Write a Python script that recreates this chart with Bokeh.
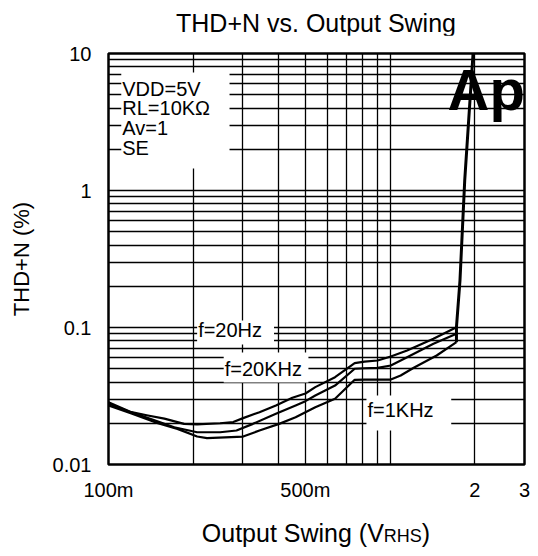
from bokeh.plotting import figure
from bokeh.layouts import column
from bokeh.models import FixedTicker, CustomJSTickFormatter, Label, BoxAnnotation, Range1d, Div
from bokeh.embed import file_html
from bokeh.resources import INLINE

# ---------------- data ----------------
title_text = "THD+N vs. Output Swing"
y_title = "THD+N (%)"
x_title_main = "Output Swing (V"
x_title_sub = "RHS"
x_title_end = ")"

x_ticks = [0.1, 0.5, 2, 3]
x_tick_labels = ["100m", "500m", "2", "3"]
x_minor = [0.2, 0.3, 0.4, 0.6, 0.7, 0.8, 0.9, 1.0]
y_ticks = [0.01, 0.1, 1, 10]
y_tick_labels = ["0.01", "0.1", "1", "10"]
y_minor = [m * d for d in (0.01, 0.1, 1) for m in range(2, 10)]

swing_20hz = [0.1, 0.1206, 0.138, 0.1579, 0.1854, 0.2064, 0.249, 0.2773, 0.3006, 0.3436,
              0.393, 0.4497, 0.5004, 0.5424, 0.6373, 0.7484, 0.811, 0.903, 1.0056, 1.149,
              1.425, 1.72]
thd_20hz = [0.0285, 0.0241, 0.0228, 0.0216, 0.0198, 0.0196, 0.0200, 0.0204, 0.0218, 0.0241,
            0.0270, 0.0307, 0.0330, 0.0367, 0.0434, 0.0549, 0.0563, 0.0574, 0.0614, 0.0679,
            0.0827, 0.1005]

swing_20khz = [0.1, 0.1206, 0.1457, 0.1711, 0.2064, 0.249, 0.2848, 0.3258, 0.393, 0.4617,
               0.5004, 0.5424, 0.6373, 0.7484, 0.811, 0.903, 1.0056, 1.149, 1.425, 1.72]
thd_20khz = [0.0279, 0.0240, 0.0210, 0.0187, 0.0172, 0.0172, 0.0177, 0.0198, 0.0235, 0.0270,
             0.0290, 0.0319, 0.0377, 0.0500, 0.0504, 0.0508, 0.0528, 0.0607, 0.0760, 0.0899]

swing_1khz = [0.1, 0.1206, 0.1457, 0.1757, 0.2064, 0.2237, 0.3006, 0.3436, 0.4036, 0.4617,
              0.5004, 0.5424, 0.6373, 0.7484, 0.811, 1.0056, 1.09, 1.213, 1.463, 1.72]
thd_1khz = [0.0270, 0.0236, 0.0204, 0.0182, 0.0160, 0.0156, 0.0160, 0.0177, 0.0198, 0.0221,
            0.0241, 0.0262, 0.0302, 0.0415, 0.0417, 0.0417, 0.0446, 0.0508, 0.0625, 0.0781]

# clipping rise shared by all three curves
swing_clip = [1.72, 1.72, 1.77, 1.84, 1.97]
thd_clip = [0.0781, 0.1005, 0.22, 1.18, 10.0]

cond_lines = ["VDD=5V", "RL=10K\u03a9", "Av=1", "SE"]
curve_names = ["f=20Hz", "f=20KHz", "f=1KHz"]

FONT = "Liberation Sans"

p = figure(width=530, height=469, x_axis_type="log", y_axis_type="log",
           x_range=Range1d(0.1, 3), y_range=Range1d(0.01, 10),
           output_backend="svg", toolbar_location=None, margin=0,
           min_border_left=108, min_border_right=6, min_border_top=18, min_border_bottom=40)

p.outline_line_color = "black"
p.outline_line_width = 2.5
p.background_fill_color = "white"
p.border_fill_color = "white"

# axes
p.xaxis.ticker = FixedTicker(ticks=x_ticks, minor_ticks=x_minor)
p.yaxis.ticker = FixedTicker(ticks=y_ticks, minor_ticks=y_minor)
p.xaxis.formatter = CustomJSTickFormatter(args=dict(vals=x_ticks, labs=x_tick_labels), code="""
for (let i = 0; i < vals.length; i++) { if (Math.abs(Math.log10(tick / vals[i])) < 1e-6) return labs[i]; }
return "";""")
p.yaxis.formatter = CustomJSTickFormatter(args=dict(vals=y_ticks, labs=y_tick_labels), code="""
for (let i = 0; i < vals.length; i++) { if (Math.abs(Math.log10(tick / vals[i])) < 1e-6) return labs[i]; }
return "";""")
p.yaxis.axis_label = y_title
for ax in (p.xaxis, p.yaxis):
    ax.axis_line_color = None
    ax.major_tick_line_color = None
    ax.minor_tick_line_color = None
    ax.major_tick_out = 0
    ax.minor_tick_out = 0
    ax.major_label_text_font = FONT
    ax.major_label_text_font_size = "20px"
    ax.major_label_text_color = "black"
    ax.axis_label_text_font = FONT
    ax.axis_label_text_font_style = "normal"
    ax.axis_label_text_color = "black"
p.xaxis.major_label_standoff = 14
p.yaxis.major_label_standoff = 17
p.yaxis.axis_label_text_font_size = "22px"
p.yaxis.axis_label_standoff = 16

for g in (p.xgrid, p.ygrid):
    g.grid_line_color = "black"
    g.grid_line_width = 1.3
    g.grid_line_alpha = 1
    g.minor_grid_line_color = "black"
    g.minor_grid_line_width = 1.3

# curves
for xs, ys in ((swing_20hz, thd_20hz), (swing_20khz, thd_20khz), (swing_1khz, thd_1khz)):
    p.line(xs, ys, line_color="black", line_width=2.2, line_join="round")
p.line(swing_clip, thd_clip, line_color="black", line_width=3)

# condition box
p.add_layout(BoxAnnotation(left=0.111, right=0.269, bottom=1.45, top=7.27,
                           fill_color="white", fill_alpha=1, line_color=None))
for txt, yv in zip(cond_lines, [5.55, 3.97, 2.84, 2.03]):
    p.add_layout(Label(x=0.111, y=yv, x_offset=1, text=txt, text_font=FONT, text_font_size="20px",
                       text_baseline="middle", text_align="left", text_color="black"))

# curve labels
boxes = [(0.2064, 0.387, 0.0752, 0.1125, 0.0951),
         (0.2565, 0.5127, 0.0397, 0.0657, 0.0502),
         (0.824, 1.648, 0.0177, 0.0319, 0.0248)]
for name, (l, r, b, t, yc) in zip(curve_names, boxes):
    p.add_layout(BoxAnnotation(left=l, right=r, bottom=b, top=t,
                               fill_color="white", fill_alpha=1, line_color=None))
    p.add_layout(Label(x=l, y=yc, x_offset=1, text=name, text_font=FONT, text_font_size="20px",
                       text_baseline="middle", text_align="left", text_color="black"))

# Ap logo
p.add_layout(Label(x=1.60, y=5.5, text="Ap", text_font=FONT, text_font_size="58px",
                   text_font_style="bold", text_baseline="alphabetic", text_align="left",
                   text_color="black"))

# chart title and x axis title (with small "RHS") as real HTML text
title_div = Div(text=(f'<div style="margin-left:108px; width:416px; text-align:center; padding-top:10px; '
                      f'font-family:\'{FONT}\'; font-size:25px; line-height:26px; color:black; '
                      f'white-space:nowrap">{title_text}</div>'),
                width=530, height=35, margin=0)
xlab = Div(text=(f'<div style="margin-left:108px; width:416px; text-align:center; padding-top:15px; '
                 f'font-family:\'{FONT}\'; font-size:25px; line-height:28px; color:black; white-space:nowrap">'
                 f'{x_title_main}<span style="font-size:18px">{x_title_sub}</span>{x_title_end}</div>'),
           width=530, height=44, margin=0)

layout = column(title_div, p, xlab, spacing=0, margin=0)
open("out.html", "w").write(file_html(layout, INLINE))
